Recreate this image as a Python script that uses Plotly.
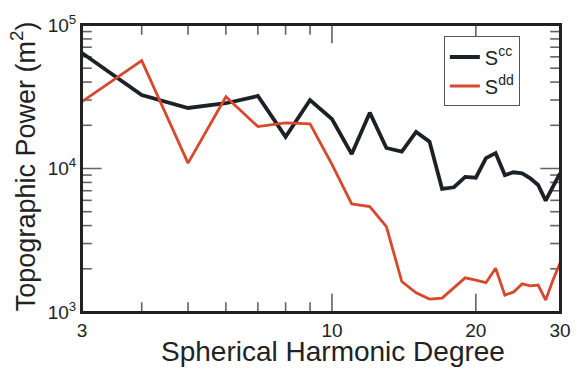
import plotly.graph_objects as go

degree = list(range(3, 31))
s_cc = [63800, 32500, 26400, 28500, 32000, 16600, 30000, 22100, 12600, 24500,
        13900, 13100, 18000, 15400, 7200, 7400, 8730, 8630, 11800, 12800,
        9000, 9410, 9260, 8550, 7670, 5970, 7470, 9260]
s_dd = [29200, 56400, 10900, 31600, 19600, 20800, 20500, 10700, 5660, 5420,
        3930, 1630, 1360, 1230, 1250, 1470, 1730, 1670, 1600, 2020,
        1310, 1380, 1570, 1520, 1540, 1210, 1670, 2190]

x_major = [3, 10, 20, 30]
x_major_text = ["3", "10", "20", "30"]
x_minor = [4, 5, 6, 7, 8, 9]
y_major = [1e3, 1e4, 1e5]
y_major_text = ["10<sup>3</sup>", "10<sup>4</sup>", "10<sup>5</sup>"]
y_minor = [m * 10 ** e for e in (3, 4) for m in range(2, 10)]

font = "Liberation Sans, Arial, Helvetica, sans-serif"
ink = "#222222"
xr = [0.47712, 1.47712]   # log10(3) .. log10(30)
yr = [3, 5]
x_lo, x_hi = 10 ** xr[0], 10 ** xr[1]
y_lo, y_hi = 10 ** yr[0], 10 ** yr[1]
MAJOR_LEN, MINOR_LEN = 13, 7

fig = go.Figure()

# inward tick marks on all four sides (markers centred on the frame, half clipped away)
x_ticks = x_major + x_minor
x_sizes = [2 * MAJOR_LEN] * len(x_major) + [2 * MINOR_LEN] * len(x_minor)
y_ticks = y_major + y_minor
y_sizes = [2 * (MAJOR_LEN + 1)] * len(y_major) + [2 * MINOR_LEN] * len(y_minor)
fig.add_trace(go.Scatter(
    x=x_ticks + x_ticks, y=[y_lo] * len(x_ticks) + [y_hi] * len(x_ticks),
    mode="markers", showlegend=False, hoverinfo="skip", cliponaxis=True,
    marker=dict(symbol="line-ns", size=x_sizes + x_sizes, color=ink,
                line=dict(color=ink, width=1.6))))
fig.add_trace(go.Scatter(
    x=[x_lo] * len(y_ticks) + [x_hi] * len(y_ticks), y=y_ticks + y_ticks,
    mode="markers", showlegend=False, hoverinfo="skip", cliponaxis=True,
    marker=dict(symbol="line-ew", size=y_sizes + y_sizes, color=ink,
                line=dict(color=ink, width=1.6))))

fig.add_trace(go.Scatter(x=degree, y=s_cc, mode="lines", name="S<sup>cc</sup>",
                         line=dict(color="#1b2126", width=3.8)))
fig.add_trace(go.Scatter(x=degree, y=s_dd, mode="lines", name="S<sup>dd</sup>",
                         line=dict(color="#d9472c", width=2.8)))

fig.update_layout(
    width=583, height=373,
    margin=dict(l=82, r=12, t=25, b=61),
    paper_bgcolor="white", plot_bgcolor="white",
    font=dict(family=font, color=ink, size=18),
    showlegend=True,
    legend=dict(x=0.757, y=0.96, xanchor="left", yanchor="top",
                bordercolor="#555555", borderwidth=1, bgcolor="white",
                font=dict(size=20, family=font), tracegroupgap=0),
    xaxis=dict(type="log", range=xr, tickmode="array", tickvals=x_major,
               ticktext=x_major_text, ticks="", tickfont=dict(size=19),
               showline=True, linecolor=ink, linewidth=2, mirror=True,
               showgrid=False, zeroline=False),
    yaxis=dict(type="log", range=yr, tickmode="array", tickvals=y_major,
               ticktext=y_major_text, ticks="", tickfont=dict(size=19),
               showline=True, linecolor=ink, linewidth=2, mirror=True,
               showgrid=False, zeroline=False),
    shapes=[dict(type="rect", xref="paper", yref="paper", x0=0, y0=0, x1=1, y1=1,
                 line=dict(color=ink, width=2), fillcolor="rgba(0,0,0,0)",
                 layer="above")],
    annotations=[
        dict(text="Spherical Harmonic Degree", xref="paper", yref="paper",
             x=0.525, y=-0.136, xanchor="center", yanchor="middle",
             showarrow=False, font=dict(size=28)),
        dict(text="Topographic Power (m<sup>2</sup>)", xref="paper", yref="paper",
             x=-0.122, y=0.507, xanchor="center", yanchor="middle", textangle=-90,
             showarrow=False, font=dict(size=27)),
    ],
)

fig.write_html("out.html")
